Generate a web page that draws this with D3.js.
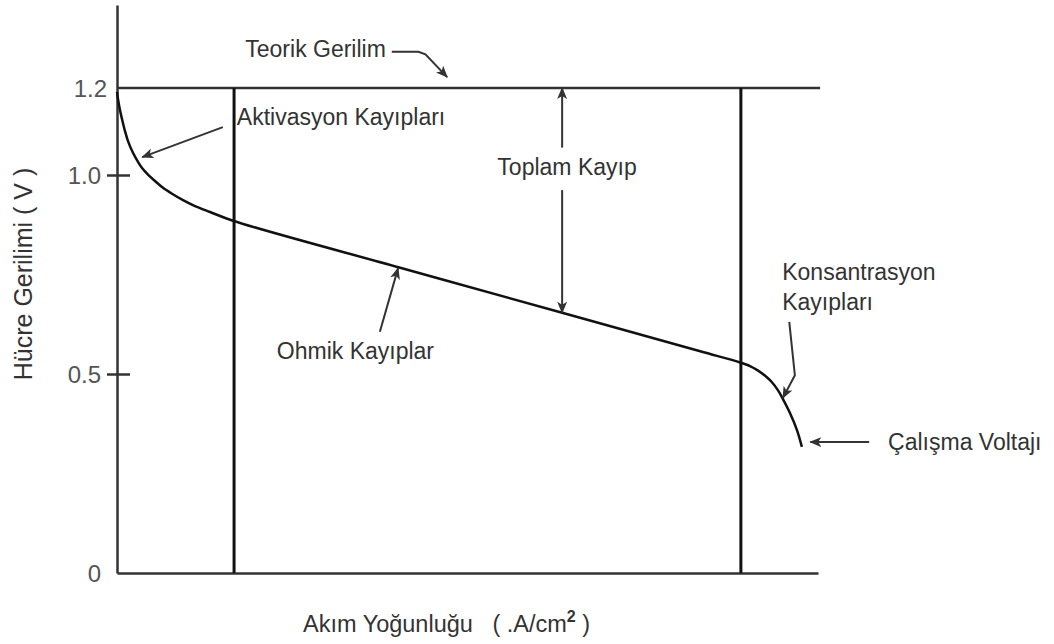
<!DOCTYPE html>
<html lang="tr">
<head>
<meta charset="UTF-8">
<title>Hücre Gerilimi - Akım Yoğunluğu</title>
<script src="https://cdn.jsdelivr.net/npm/d3@7"></script>
<style>
    body { margin: 0; background: #fff; }
    svg text { font-family: "Liberation Sans", Arial, sans-serif; fill: #333; }
    .axis path { stroke: #333; stroke-width: 2.5; }
    .axis line { stroke: #333; stroke-width: 2.5; }
    .axis text { font-size: 24px; fill: #555; }
    .lbl { font-size: 23px; }
    .ann { fill: none; stroke: #333; stroke-width: 2; }
</style>
</head>
<body>
<script>
// polarizasyon eğrisi (x: akım yoğunluğu, keyfi birim; y: volt)
var akim    = [0, 0.014, 0.043, 0.071, 0.114, 0.157, 0.228, 0.30, 0.357, 0.442, 0.542, 0.656, 0.785, 0.942, 1.113, 1.327, 1.655,
               4.04, 6.35, 8.32, 8.89, 9.03, 9.14, 9.27, 9.34, 9.43, 9.50, 9.60, 9.70, 9.77];
var gerilim = [1.191, 1.175, 1.149, 1.129, 1.101, 1.078, 1.051, 1.030, 1.016, 1.001, 0.985, 0.968, 0.953, 0.937, 0.922, 0.907, 0.885,
               0.767, 0.654, 0.557, 0.529, 0.520, 0.509, 0.492, 0.480, 0.459, 0.437, 0.402, 0.359, 0.317];

var teorikGerilim = 1.2;
var bolgeSinirlari = [1.67, 8.90];          // aktivasyon | ohmik | konsantrasyon
var yTicks = [0, 0.5, 1.0, 1.2];
var yTickLabels = ["0", "0.5", "1.0", "1.2"];
var tickliDegerler = [0.5, 1.0];             // sadece bunlarda çentik var

var width = 1054, height = 644;
var svg = d3.select("body").append("svg")
    .attr("width", width)
    .attr("height", height);

var x = d3.scaleLinear().domain([0, 10]).range([117, 818]);
// resimdeki eksen tam doğrusal değil, parçalı ölçek
var y = d3.scaleLinear().domain([0, 0.5, 1.0, 1.2, 1.39]).range([573, 374, 175, 88, 5]);

// ok ucu
var defs = svg.append("defs");
defs.append("marker")
    .attr("id", "ok")
    .attr("viewBox", "0 0 12 10")
    .attr("refX", 11).attr("refY", 5)
    .attr("markerWidth", 12).attr("markerHeight", 10)
    .attr("markerUnits", "userSpaceOnUse")
    .attr("orient", "auto-start-reverse")
    .append("path")
    .attr("d", "M0,0 L12,5 L0,10 L3,5 Z")
    .attr("fill", "#333");

// y ekseni
var yAxis = d3.axisLeft(y)
    .tickValues(yTicks)
    .tickFormat(function(d, i){ return yTickLabels[i]; })
    .tickSizeInner(-13)
    .tickSizeOuter(0)
    .tickPadding(16);

var gy = svg.append("g")
    .attr("class", "axis")
    .attr("transform", "translate(" + x(0) + ",0)")
    .call(yAxis);
gy.selectAll(".tick line")
    .attr("x1", -10)
    .style("display", function(d){ return tickliDegerler.indexOf(d) >= 0 ? null : "none"; });
gy.selectAll(".tick text")
    .attr("dy", "0.36em")
    .attr("x", function(d){ return d === teorikGerilim ? -10 : -16; });

// x ekseni (çentiksiz)
svg.append("g")
    .attr("class", "axis")
    .attr("transform", "translate(0," + y(0) + ")")
    .call(d3.axisBottom(x).tickValues([]).tickSizeOuter(0));

// teorik gerilim çizgisi
svg.append("line")
    .attr("x1", x(0)).attr("x2", x(10.03))
    .attr("y1", y(teorikGerilim)).attr("y2", y(teorikGerilim))
    .attr("stroke", "#333").attr("stroke-width", 2.5);

// bölge sınırları
svg.selectAll(".sinir")
    .data(bolgeSinirlari)
    .enter()
    .append("line")
    .attr("class", "sinir")
    .attr("x1", function(d){ return x(d); })
    .attr("x2", function(d){ return x(d); })
    .attr("y1", y(teorikGerilim))
    .attr("y2", y(0))
    .attr("stroke", "#111").attr("stroke-width", 3);

// eğri
var noktalar = d3.zip(akim, gerilim);
svg.append("path")
    .datum(noktalar)
    .attr("fill", "none")
    .attr("stroke", "#111")
    .attr("stroke-width", 2.5)
    .attr("d", d3.line()
        .x(function(d){ return x(d[0]); })
        .y(function(d){ return y(d[1]); })
        .curve(d3.curveCatmullRom.alpha(0.5)));

// açıklama okları (veri koordinatlarında)
var oklar = [
    [[3.92, 1.283], [4.30, 1.283], [4.40, 1.277], [4.71, 1.225]],   // Teorik Gerilim
    [[1.51, 1.110], [0.36, 1.041]],                                 // Aktivasyon
    [[6.35, 1.063], [6.35, 1.2]],                                   // Toplam (üst)
    [[6.35, 0.962], [6.35, 0.654]],                                 // Toplam (alt)
    [[3.75, 0.606], [4.01, 0.766]],                                 // Ohmik
    [[9.59, 0.631], [9.67, 0.497], [9.50, 0.440]],                  // Konsantrasyon
    [[10.73, 0.329], [9.89, 0.329]]                                 // Çalışma
];
var okCizgi = d3.line()
    .x(function(d){ return x(d[0]); })
    .y(function(d){ return y(d[1]); });

svg.selectAll(".okyol")
    .data(oklar)
    .enter()
    .append("path")
    .attr("class", "ann okyol")
    .attr("d", function(d){ return okCizgi(d); })
    .attr("marker-end", "url(#ok)");

// açıklama metinleri
var etiketler = [
    { t: "Teorik Gerilim",       x: 1.83, v: 1.271, a: "start" },
    { t: "Aktivasyon Kayıpları", x: 1.71, v: 1.115, a: "start" },
    { t: "Toplam Kayıp",         x: 6.42, v: 1.000, a: "middle" },
    { t: "Konsantrasyon",        x: 9.49, v: 0.736, a: "start" },
    { t: "Kayıpları",            x: 9.49, v: 0.661, a: "start" },
    { t: "Ohmik Kayıplar",       x: 2.28, v: 0.538, a: "start" },
    { t: "Çalışma Voltajı",      x: 11.0, v: 0.309, a: "start" }
];
svg.selectAll(".etiket")
    .data(etiketler)
    .enter()
    .append("text")
    .attr("class", "lbl etiket")
    .attr("x", function(d){ return x(d.x); })
    .attr("y", function(d){ return y(d.v); })
    .attr("text-anchor", function(d){ return d.a; })
    .text(function(d){ return d.t; });

// eksen başlıkları
svg.append("text")
    .attr("transform", "translate(32," + 274 + ") rotate(-90)")
    .attr("text-anchor", "middle")
    .attr("font-size", 25)
    .text("Hücre Gerilimi ( V )");

var xt = svg.append("text")
    .attr("x", 303)
    .attr("y", 632)
    .attr("font-size", 23.5)
    .attr("xml:space", "preserve");
xt.append("tspan").text("Akım Yoğunluğu   ( .A/cm");
xt.append("tspan").attr("dy", -10).attr("font-size", 16).attr("font-weight", "bold").text("2");
xt.append("tspan").attr("dy", 10).text(" )");
</script>
</body>
</html>
